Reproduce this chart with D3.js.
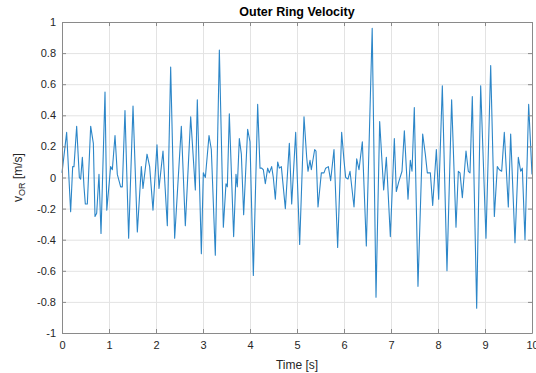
<!DOCTYPE html>
<html>
<head>
<meta charset="utf-8">
<script src="https://cdn.jsdelivr.net/npm/d3@7"></script>
<style>
  body { margin: 0; background: #fff; }
  svg { display: block; font-family: "Liberation Sans", Arial, sans-serif; }
</style>
</head>
<body>
<script>
const time = [
  0.0, 0.099, 0.184, 0.227, 0.255, 0.312, 0.369, 0.397, 0.433, 0.468, 0.496, 0.539,
  0.61, 0.667, 0.702, 0.738, 0.787, 0.83, 0.915, 0.953, 1.035, 1.071, 1.128, 1.177,
  1.248, 1.284, 1.34, 1.418, 1.511, 1.603, 1.688, 1.723, 1.809, 1.865, 1.936, 2.021,
  2.064, 2.149, 2.241, 2.312, 2.397, 2.539, 2.624, 2.738, 2.837, 2.879, 2.965, 3.007,
  3.05, 3.128, 3.177, 3.262, 3.348, 3.433, 3.489, 3.518, 3.56, 3.652, 3.702, 3.73,
  3.773, 3.816, 3.865, 3.95, 4.0, 4.071, 4.163, 4.213, 4.248, 4.284, 4.326, 4.376,
  4.411, 4.461, 4.496, 4.539, 4.589, 4.624, 4.667, 4.752, 4.837, 4.887, 4.972, 5.057,
  5.149, 5.206, 5.234, 5.277, 5.305, 5.376, 5.404, 5.447, 5.518, 5.574, 5.61, 5.667,
  5.716, 5.787, 5.865, 5.95, 6.0, 6.035, 6.085, 6.128, 6.213, 6.27, 6.319, 6.39,
  6.475, 6.6, 6.681, 6.759, 6.844, 6.901, 6.986, 7.071, 7.113, 7.163, 7.234, 7.284,
  7.362, 7.411, 7.447, 7.496, 7.574, 7.674, 7.73, 7.773, 7.837, 7.887, 7.965, 8.014,
  8.092, 8.191, 8.29, 8.383, 8.433, 8.468, 8.518, 8.596, 8.645, 8.681, 8.73, 8.823,
  8.908, 9.021, 9.121, 9.199, 9.262, 9.305, 9.355, 9.411, 9.496, 9.546, 9.638, 9.709,
  9.759, 9.794, 9.851, 9.929, 10.0
];
const velocity = [
  0.03, 0.29, -0.22, 0.07, 0.07, 0.33, 0.0, -0.01, 0.13, -0.06, -0.17, -0.17,
  0.33, 0.22, -0.25, -0.23, 0.02, -0.36, 0.55, -0.21, 0.07, 0.05, 0.27, 0.02,
  -0.06, -0.06, 0.43, -0.39, 0.46, -0.35, 0.07, -0.07, 0.15, 0.07, -0.21, 0.21,
  -0.07, 0.17, -0.31, 0.71, -0.39, 0.33, -0.31, 0.39, -0.08, 0.5, -0.49, 0.03,
  0.0, 0.27, 0.18, -0.5, 0.82, -0.32, -0.04, -0.06, 0.41, -0.38, 0.02, -0.06,
  0.25, 0.15, -0.24, 0.31, 0.23, -0.63, 0.47, 0.06, 0.06, 0.05, -0.04, 0.06,
  0.03, 0.07, 0.0, -0.14, 0.1, 0.06, 0.07, -0.2, 0.22, -0.17, 0.29, -0.43,
  0.39, 0.13, 0.04, 0.11, 0.05, 0.18, 0.17, -0.19, 0.03, 0.03, 0.06, 0.07,
  -0.02, 0.18, -0.45, 0.29, 0.11, 0.0, -0.01, 0.04, -0.19, 0.12, 0.05, 0.23,
  -0.44, 0.96, -0.77, 0.36, -0.08, 0.13, -0.38, 0.25, -0.09, -0.03, 0.04, 0.3,
  -0.14, 0.11, 0.04, 0.45, -0.7, 0.28, 0.15, 0.03, 0.03, -0.18, 0.18, -0.14,
  0.59, -0.6, 0.5, -0.32, 0.04, 0.03, -0.13, 0.17, 0.04, 0.03, 0.52, -0.84,
  0.59, -0.39, 0.72, -0.25, 0.07, 0.05, 0.04, 0.29, -0.19, 0.28, -0.42, 0.13,
  0.04, 0.06, -0.4, 0.47, 0.02
];
const xTicks = [0, 1, 2, 3, 4, 5, 6, 7, 8, 9, 10];
const yTicks = [-1, -0.8, -0.6, -0.4, -0.2, 0, 0.2, 0.4, 0.6, 0.8, 1];

const width = 536, height = 373;
const margin = { top: 22, right: 4, bottom: 40, left: 62 };
const plotW = width - margin.left - margin.right;
const plotH = height - margin.top - margin.bottom;

const data = time.map((t, i) => ({ t: t, v: velocity[i] }));

const xScale = d3.scaleLinear().domain([0, 10]).range([margin.left, width - margin.right]);
const yScale = d3.scaleLinear().domain([-1, 1]).range([height - margin.bottom, margin.top]);

const fmt = d => String(+d.toFixed(1));

const svg = d3.select("body").append("svg")
  .attr("width", width)
  .attr("height", height);

// grid
svg.append("g")
  .attr("transform", `translate(0,${margin.top})`)
  .call(d3.axisBottom(xScale).tickValues(xTicks).tickSize(plotH).tickFormat(""))
  .call(g => g.select(".domain").remove())
  .call(g => g.selectAll(".tick line").attr("stroke", "#e3e3e3"));
svg.append("g")
  .attr("transform", `translate(${margin.left},0)`)
  .call(d3.axisRight(yScale).tickValues(yTicks).tickSize(plotW).tickFormat(""))
  .call(g => g.select(".domain").remove())
  .call(g => g.selectAll(".tick line").attr("stroke", "#e3e3e3"));

// the signal
const line = d3.line()
  .x(d => xScale(d.t))
  .y(d => yScale(d.v));
svg.append("path")
  .datum(data)
  .attr("fill", "none")
  .attr("stroke", "#2c86c8")
  .attr("stroke-width", 1.1)
  .attr("stroke-linejoin", "round")
  .attr("d", line);

// axes (box with inward ticks)
const axisColor = "#8a8a8a";
function styleAxis(g) {
  g.select(".domain").attr("stroke", axisColor);
  g.selectAll(".tick line").attr("stroke", axisColor);
  g.selectAll(".tick text").attr("fill", "#262626").style("font-size", "11px");
}
svg.append("g")
  .attr("transform", `translate(0,${height - margin.bottom})`)
  .call(d3.axisBottom(xScale).tickValues(xTicks).tickSize(-4).tickSizeOuter(0).tickPadding(8).tickFormat(fmt))
  .call(styleAxis);
svg.append("g")
  .attr("transform", `translate(0,${margin.top})`)
  .call(d3.axisTop(xScale).tickValues(xTicks).tickSize(-4).tickSizeOuter(0).tickFormat(""))
  .call(styleAxis);
svg.append("g")
  .attr("transform", `translate(${margin.left},0)`)
  .call(d3.axisLeft(yScale).tickValues(yTicks).tickSize(-4).tickSizeOuter(0).tickPadding(6).tickFormat(fmt))
  .call(styleAxis);
svg.append("g")
  .attr("transform", `translate(${width - margin.right},0)`)
  .call(d3.axisRight(yScale).tickValues(yTicks).tickSize(-4).tickSizeOuter(0).tickFormat(""))
  .call(styleAxis);

// title and labels
svg.append("text")
  .attr("x", (margin.left + width - margin.right) / 2)
  .attr("y", 16)
  .attr("text-anchor", "middle")
  .attr("font-weight", "bold")
  .attr("font-size", 12.5)
  .attr("fill", "#000")
  .text("Outer Ring Velocity");

svg.append("text")
  .attr("x", (margin.left + width - margin.right) / 2)
  .attr("y", 369)
  .attr("text-anchor", "middle")
  .attr("font-size", 12)
  .attr("fill", "#262626")
  .text("Time [s]");

const yLabel = svg.append("text")
  .attr("transform", `translate(22,${(margin.top + height - margin.bottom) / 2}) rotate(-90)`)
  .attr("text-anchor", "middle")
  .attr("font-size", 12)
  .attr("fill", "#262626");
yLabel.append("tspan").text("v");
yLabel.append("tspan").attr("font-size", 9).attr("dy", 3).text("OR");
yLabel.append("tspan").attr("dy", -3).text(" [m/s]");
</script>
</body>
</html>
